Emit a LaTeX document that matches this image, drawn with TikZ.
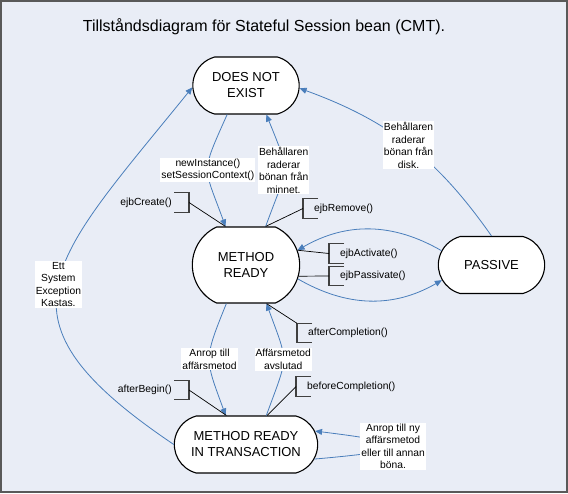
\documentclass[tikz,border=0pt]{standalone}
\usepackage{fontspec}
\setmainfont{Liberation Sans}
\usetikzlibrary{arrows.meta,shapes.misc}
\definecolor{bgblue}{HTML}{E9EDF6}
\definecolor{flowblue}{HTML}{4A7EBB}

\begin{document}
\begin{tikzpicture}[x=1pt,y=1pt,>={Triangle[length=7pt,width=6pt]},node distance=179.5pt,
  state/.style={rounded rectangle,rounded rectangle arc length=150,draw,line width=1.1pt,fill=white,
    minimum width=113pt,minimum height=57pt,align=center,font=\fontsize{13}{16}\selectfont},
  flow/.style={->,draw=flowblue,line width=0.8pt},
  lbl/.style={fill=white,inner sep=1pt,align=center,font=\fontsize{10.3}{12.5}\selectfont},
  note/.style={minimum height=19pt,inner ysep=0pt,inner xsep=11pt,font=\fontsize{10.3}{12.5}\selectfont},
  bracket/.style={draw=black!75,line width=1.2pt},
  noteline/.style={draw=black,line width=0.7pt}]

    \useasboundingbox (0,0) rectangle (568,-493);
    \fill[bgblue] (0,0) rectangle (568,-493);
    \draw[black!65,line width=2pt] (1,-1) rectangle (567,-492);

    \node[font=\fontsize{16}{19}\selectfont] (title) at (264,-27) {Tillståndsdiagram för Stateful Session bean (CMT).};

    % states
    \node[state] (dne) at (246,-85.5) {DOES NOT\\EXIST};
    \node[state,minimum width=114pt,minimum height=76pt,rounded rectangle arc length=130] (mr) [below of=dne] {METHOD\\READY};
    \node[state,minimum width=150pt] (mrit) [below of=mr] {METHOD READY\\IN TRANSACTION};
    \node[state,node distance=245.5pt] (passive) [right of=mr] {PASSIVE};

    % transitions
    \draw[flow] (dne.-123) to[out=-114,in=110,looseness=1.5] node[lbl] {newInstance()\\setSessionContext()} (mr.118);
    \draw[flow] (mr.63) to[out=70,in=-68,looseness=1.5] node[lbl] {Behållaren\\raderar\\bönan från\\minnet.} (dne.-55);
    \draw[flow] (passive.north) to[out=125,in=-20] node[lbl] {Behållaren\\raderar\\bönan från\\disk.} (dne.-3);
    \draw[flow] (passive.164) to[out=150,in=30] (mr.16);
    \draw[flow] (mr.-15) to[out=-30,in=-150] (passive.197);
    \draw[flow] (mr.-117) to[out=-112,in=110,looseness=1.4] node[lbl] {Anrop till\\affärsmetod} (mrit.125);
    \draw[flow] (mrit.55) to[out=70,in=-70,looseness=1.5] node[lbl] {Affärsmetod\\avslutad} (mr.-62);
    \draw[flow] (mrit.west) .. controls +(146:228) and +(-129:228) .. node[lbl] {Ett\\System\\Exception\\Kastas.} (dne.182);
    \draw[flow] (mrit.-12) .. controls +(5:105) and +(-7:105) .. node[lbl] {Anrop till ny\\affärsmetod\\eller till annan\\böna.} (mrit.11);

    % callbacks
    \node[note,anchor=east,inner xsep=17pt] (create) at (189,-202.5) {ejbCreate()};
    \node[note,anchor=east,inner xsep=17pt] (afterbegin) at (189,-390) {afterBegin()};
    \node[note,anchor=west] (remove) at (303,-208.5) {ejbRemove()};
    \node[note,anchor=west] (activate) at (329,-253.5) {ejbActivate()};
    \node[note,anchor=west] (passivate) at (329,-276) {ejbPassivate()};
    \node[note,anchor=west] (aftercomp) at (297,-333) {afterCompletion()};
    \node[note,anchor=west] (beforecomp) at (296,-386.5) {beforeCompletion()};

    \foreach \n in {create,afterbegin}
        \draw[bracket] ([xshift=-15pt]\n.north east) -- (\n.north east) -- (\n.south east) -- ++(-15,0);
    \foreach \n in {remove,activate,passivate,aftercomp,beforecomp}
        \draw[bracket] ([xshift=15pt]\n.north west) -- (\n.north west) -- (\n.south west) -- ++(15,0);

    \draw[noteline] (create.east) -- (mr.118);
    \draw[noteline] (remove.west) -- (mr.63);
    \draw[noteline] (activate.west) -- (mr.16);
    \draw[noteline] (passivate.west) -- (mr.-12);
    \draw[noteline] (aftercomp.north west) -- (mr.-62);
    \draw[noteline] (beforecomp.west) -- (mrit.54);
    \draw[noteline] (afterbegin.east) -- (mrit.124);
\end{tikzpicture}
\end{document}
